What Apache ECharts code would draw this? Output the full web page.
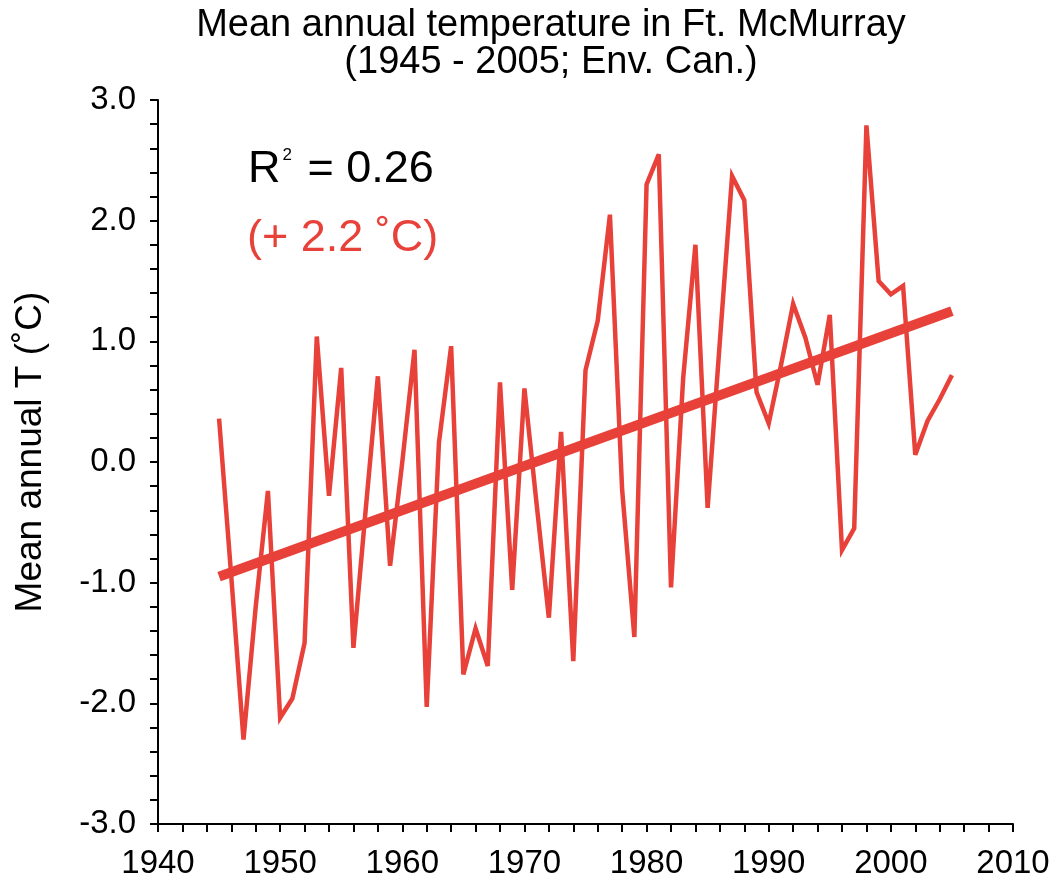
<!DOCTYPE html>
<html>
<head>
<meta charset="utf-8">
<script src="https://cdn.jsdelivr.net/npm/echarts@6/dist/echarts.min.js"></script>
<style>html,body{margin:0;padding:0;background:#fff}#c{width:1056px;height:888px}</style>
</head>
<body>
<div id="c"></div>
<script>
const years = [1945,1946,1947,1948,1949,1950,1951,1952,1953,1954,1955,1956,1957,1958,1959,1960,1961,1962,1963,1964,1965,1966,1967,1968,1969,1970,1971,1972,1973,1974,1975,1976,1977,1978,1979,1980,1981,1982,1983,1984,1985,1986,1987,1988,1989,1990,1991,1992,1993,1994,1995,1996,1997,1998,1999,2000,2001,2002,2003,2004,2005];
const temps = [0.36,-0.95,-2.3,-1.2,-0.24,-2.12,-1.96,-1.5,1.04,-0.28,0.78,-1.54,-0.4,0.71,-0.86,0.0,0.93,-2.03,0.16,0.96,-1.76,-1.38,-1.69,0.66,-1.06,0.61,-0.35,-1.29,0.25,-1.65,0.76,1.17,2.05,-0.23,-1.45,2.3,2.55,-1.04,0.7,1.8,-0.38,1.0,2.37,2.17,0.58,0.32,0.8,1.31,1.03,0.64,1.22,-0.73,-0.55,2.79,1.5,1.39,1.46,0.06,0.34,0.52,0.72];
const trendYears = [1945, 2005];
const trendValues = [-0.95, 1.25];
const yTicks = [-3, -2, -1, 0, 1, 2, 3];
const xTicks = [1940, 1950, 1960, 1970, 1980, 1990, 2000, 2010];

const RED = '#e8413a';
const FONT = '"Liberation Sans",Arial,Helvetica,sans-serif';
const chart = echarts.init(document.getElementById('c'));
chart.setOption({
  animation: false,
  backgroundColor: '#fff',
  title: {
    text: 'Mean annual temperature in Ft. McMurray\n(1945 - 2005; Env. Can.)',
    left: 546, top: 2, textAlign: 'center',
    textStyle: {fontFamily: FONT, fontWeight: 'normal', fontSize: 38, lineHeight: 37, color: '#000'}
  },
  grid: {left: 158, right: 43, top: 100, bottom: 64},
  xAxis: {
    type: 'value', min: xTicks[0], max: xTicks[xTicks.length-1], interval: 10,
    axisLine: {onZero: false, lineStyle: {color: '#000', width: 2}},
    axisTick: {inside: false, length: 8, lineStyle: {color: '#000', width: 2}},
    minorTick: {show: true, splitNumber: 5, length: 8, lineStyle: {color: '#000', width: 2}},
    splitLine: {show: false},
    axisLabel: {margin: 23, fontSize: 33, color: '#000', fontFamily: FONT, formatter: v => String(v)}
  },
  yAxis: {
    type: 'value', min: yTicks[0], max: yTicks[yTicks.length-1], interval: 1,
    name: 'Mean annual T (˚C)', nameLocation: 'middle', nameGap: 109, nameRotate: 90,
    nameTextStyle: {fontSize: 37, color: '#000', fontFamily: FONT, padding: [0, 0, 0, 20]},
    axisLine: {lineStyle: {color: '#000', width: 2}},
    axisTick: {inside: false, length: 8, lineStyle: {color: '#000', width: 2}},
    minorTick: {show: true, splitNumber: 5, length: 8, lineStyle: {color: '#000', width: 2}},
    splitLine: {show: false},
    axisLabel: {margin: 22, fontSize: 33, color: '#000', fontFamily: FONT, formatter: v => v.toFixed(1)}
  },
  graphic: [
    {type: 'text', left: 248, top: 147, style: {
      text: '{a|R}{s|2}{a| = 0.26}',
      rich: {a: {fontSize: 45, fontFamily: FONT, fill: '#000'},
             s: {fontSize: 17, fontFamily: FONT, fill: '#000', verticalAlign: 'top', padding: [0,3,24,2]}}
    }},
    {type: 'text', left: 247, top: 216, style: {
      text: '(+ 2.2 ˚C)', fontSize: 45, fontFamily: FONT, fill: RED
    }}
  ],
  series: [
    {type: 'line', data: years.map((y,i)=>[y,temps[i]]), showSymbol: false, symbol: 'none',
     lineStyle: {color: RED, width: 4.5, join: 'miter', miterLimit: 4}, z: 3},
    {type: 'line', data: trendYears.map((y,i)=>[y,trendValues[i]]), showSymbol: false, symbol: 'none',
     lineStyle: {color: RED, width: 10, cap: 'butt'}, z: 2}
  ]
});
</script>
</body>
</html>
